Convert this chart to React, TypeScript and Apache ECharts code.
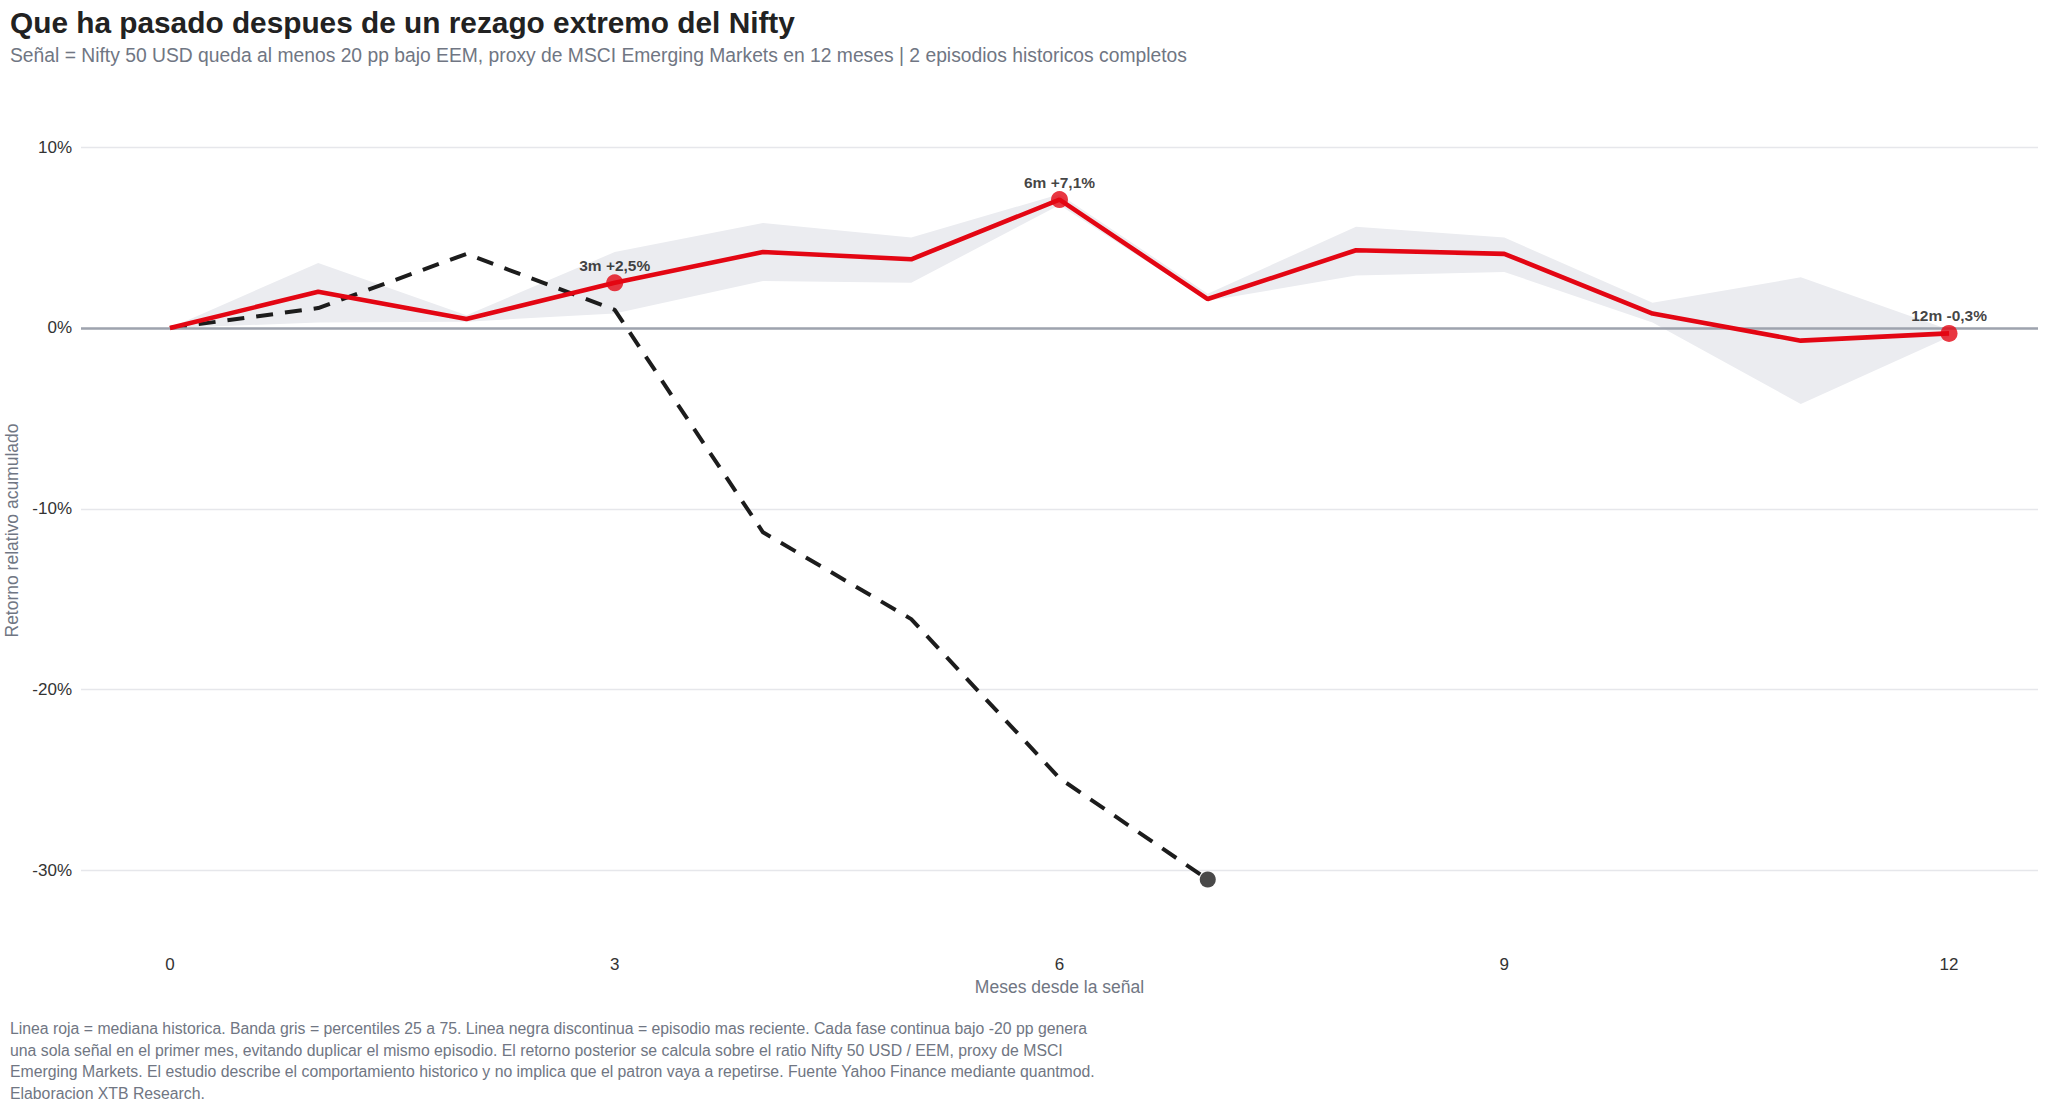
import { useEffect, useRef } from 'react'
import * as echarts from 'echarts'

const FONT = 'Liberation Sans, Arial, Helvetica, sans-serif'

const MONTHS = [0, 1, 2, 3, 4, 5, 6, 7, 8, 9, 10, 11, 12]
const MEDIAN = [0, 2.0, 0.5, 2.5, 4.2, 3.8, 7.1, 1.6, 4.3, 4.1, 0.8, -0.7, -0.3]
const P25 = [0, 0.3, 0.35, 0.8, 2.6, 2.5, 6.8, 1.5, 2.9, 3.1, 0.3, -4.2, -0.5]
const P75 = [0, 3.6, 0.7, 4.2, 5.8, 5.0, 7.4, 1.9, 5.6, 5.0, 1.4, 2.8, -0.1]
const RECENT = [0, 1.1, 4.1, 1.0, -11.3, -16.1, -24.9, -30.5]
const MARKED_MONTHS = [3, 6, 12]

const X_TICKS = [0, 3, 6, 9, 12]
const Y_TICKS = [-30, -20, -10, 0, 10]

const TITLE = 'Que ha pasado despues de un rezago extremo del Nifty'
const SUBTITLE =
  'Señal = Nifty 50 USD queda al menos 20 pp bajo EEM, proxy de MSCI Emerging Markets en 12 meses | 2 episodios historicos completos'
const FOOTER = [
  'Linea roja = mediana historica. Banda gris = percentiles 25 a 75. Linea negra discontinua = episodio mas reciente. Cada fase continua bajo -20 pp genera',
  'una sola señal en el primer mes, evitando duplicar el mismo episodio. El retorno posterior se calcula sobre el ratio Nifty 50 USD / EEM, proxy de MSCI',
  'Emerging Markets. El estudio describe el comportamiento historico y no implica que el patron vaya a repetirse. Fuente Yahoo Finance mediante quantmod.',
  'Elaboracion XTB Research.',
]

const RED = '#e30613'
const GREY_TEXT = '#707683'

const fmtPct = (v: number) => `${v > 0 ? '+' : ''}${v.toFixed(1).replace('.', ',')}%`

export default function App() {
  const chartRef = useRef<HTMLDivElement>(null)

  useEffect(() => {
    if (!chartRef.current) return
    document.body.style.margin = '0'

    const chart = echarts.init(chartRef.current, null, { renderer: 'svg' })

    const band = MONTHS.map((m, i) => [m, P25[i], P75[i]])
    const median = MONTHS.map((m, i) => [m, MEDIAN[i]])
    const recent = RECENT.map((v, i) => [MONTHS[i], v])
    const marked = MARKED_MONTHS.map((m) => [m, MEDIAN[MONTHS.indexOf(m)]])
    const last = recent[recent.length - 1]

    // banda p25-p75 como un solo poligono
    const renderBand = (params: any, api: any) => {
      if (params.dataIndex !== 0) return null
      const top = band.map((d) => api.coord([d[0], d[2]]))
      const bottom = band.map((d) => api.coord([d[0], d[1]])).reverse()
      return {
        type: 'polygon',
        shape: { points: top.concat(bottom) },
        style: { fill: '#ebecf0' },
        silent: true,
      }
    }

    const option: any = {
      animation: false,
      backgroundColor: '#ffffff',
      title: [
        {
          text: TITLE,
          left: 10,
          top: 7,
          padding: 0,
          textStyle: { fontFamily: FONT, fontSize: 29.8, fontWeight: 'bold', color: '#222222' },
        },
        {
          text: SUBTITLE,
          left: 10,
          top: 46,
          padding: 0,
          textStyle: { fontFamily: FONT, fontSize: 19.3, fontWeight: 'normal', color: GREY_TEXT },
        },
      ],
      grid: {
        left: 81,
        top: 111,
        width: 1957,
        height: 839,
        containLabel: false,
        outerBoundsMode: 'none',
      },
      xAxis: {
        type: 'value',
        min: -0.6,
        max: 12.6,
        name: 'Meses desde la señal',
        nameLocation: 'middle',
        nameGap: 28,
        nameTextStyle: { fontFamily: FONT, fontSize: 17.5, color: GREY_TEXT, verticalAlign: 'top' },
        axisLine: { show: false },
        axisTick: { show: false, customValues: X_TICKS },
        splitLine: { show: false },
        axisLabel: {
          customValues: X_TICKS,
          margin: 6,
          fontFamily: FONT,
          fontSize: 17,
          color: '#333333',
        },
      },
      yAxis: {
        type: 'value',
        min: -34.4,
        max: 12,
        name: 'Retorno relativo acumulado',
        nameLocation: 'middle',
        nameGap: 51,
        nameTextStyle: { fontFamily: FONT, fontSize: 17.5, color: GREY_TEXT },
        axisLine: { show: false },
        axisTick: { show: false, customValues: Y_TICKS },
        splitLine: { show: true, lineStyle: { color: '#e6e7eb', width: 1.3 } },
        axisLabel: {
          customValues: Y_TICKS,
          margin: 9,
          fontFamily: FONT,
          fontSize: 17,
          color: '#333333',
          formatter: (v: number) => `${v}%`,
        },
      },
      series: [
        {
          name: 'Banda 25-75',
          type: 'custom',
          data: band,
          encode: { x: 0, y: [1, 2] },
          renderItem: renderBand,
          silent: true,
          z: 1,
          markLine: {
            silent: true,
            symbol: ['none', 'none'],
            label: { show: false },
            lineStyle: { color: '#9ea3ae', width: 2.5, type: 'solid' },
            data: [{ yAxis: 0 }],
          },
        },
        {
          name: 'Episodio reciente',
          type: 'line',
          data: recent,
          symbol: 'none',
          lineStyle: { color: '#1c1c1c', width: 4, type: [17, 12] },
          z: 3,
        },
        {
          name: 'Fin episodio',
          type: 'scatter',
          data: [last],
          symbol: 'circle',
          symbolSize: 16,
          itemStyle: { color: '#1c1c1c' },
          z: 4,
        },
        {
          name: 'Mediana historica',
          type: 'line',
          data: median,
          symbol: 'none',
          lineStyle: { color: RED, width: 4.6 },
          z: 5,
        },
        {
          name: 'Hitos',
          type: 'scatter',
          data: marked,
          symbol: 'circle',
          symbolSize: 17,
          itemStyle: { color: RED },
          z: 6,
          label: {
            show: true,
            position: 'top',
            distance: 1,
            fontFamily: FONT,
            fontSize: 15.5,
            fontWeight: 'bold',
            color: '#111111',
            formatter: (p: any) => `${p.value[0]}m ${fmtPct(p.value[1])}`,
          },
        },
      ],
      graphic: [
        {
          type: 'text',
          left: 10,
          top: 1018,
          style: {
            text: FOOTER.join('\n'),
            font: `15.8px ${FONT}`,
            fill: GREY_TEXT,
            lineHeight: 21.5,
          },
        },
      ],
    }

    chart.setOption(option)

    return () => {
      chart.dispose()
    }
  }, [])

  return <div ref={chartRef} style={{ width: '2048px', height: '1112px' }} />
}
